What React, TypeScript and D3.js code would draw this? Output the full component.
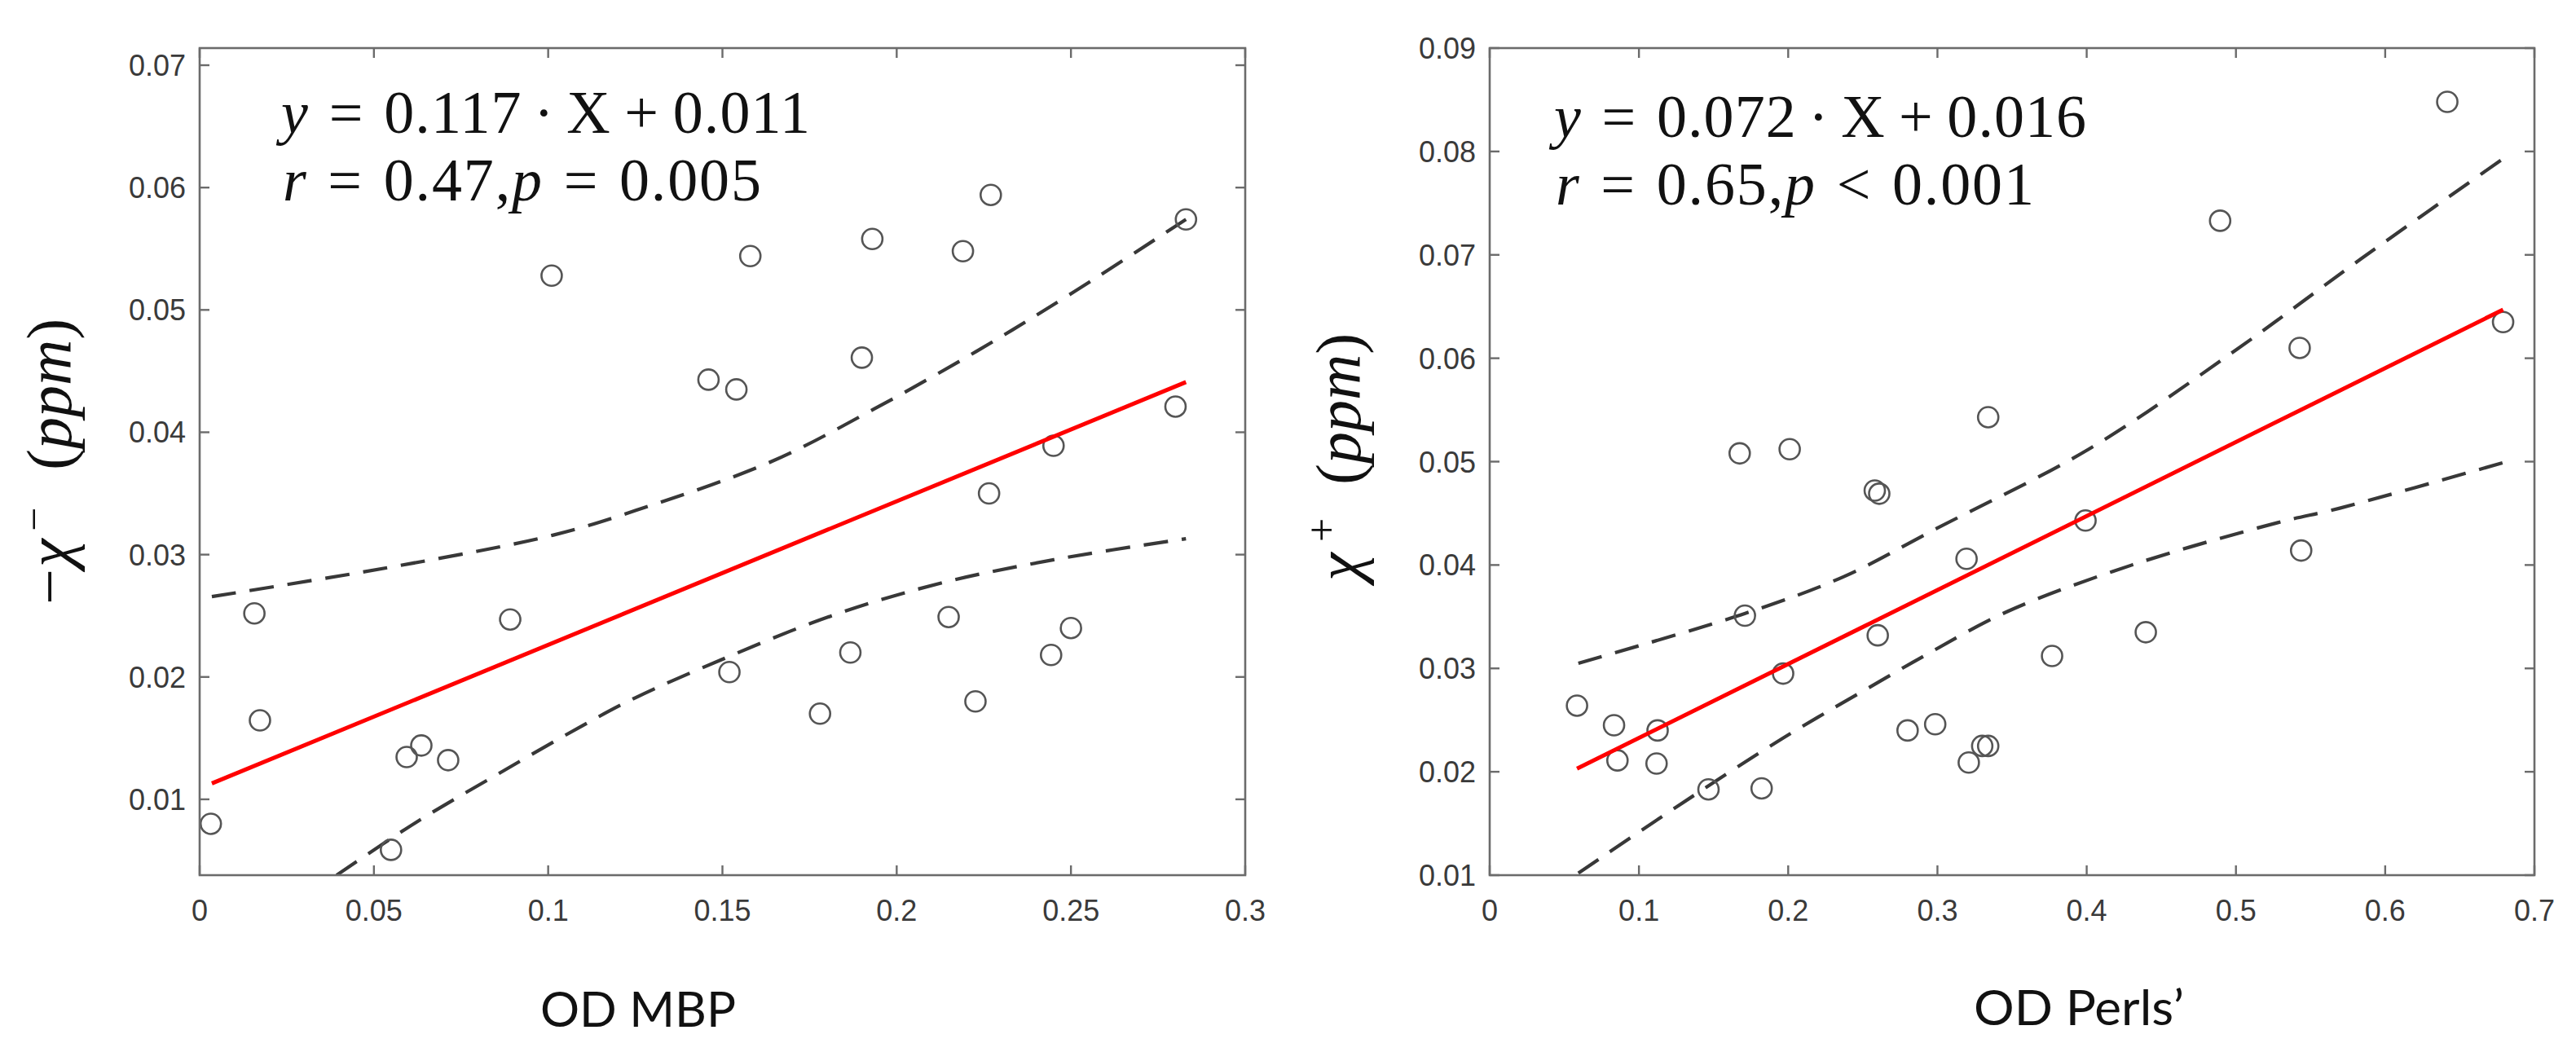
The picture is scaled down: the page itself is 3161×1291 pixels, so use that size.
import React from "react";
import * as d3 from "d3";

// ---------- data ----------
const leftX = [0.0032, 0.0157, 0.0173, 0.0549, 0.0594, 0.0636, 0.0713, 0.0891, 0.101, 0.146, 0.152, 0.154, 0.158, 0.178, 0.1867, 0.19, 0.193, 0.2149, 0.219, 0.2226, 0.2265, 0.227, 0.2443, 0.245, 0.25, 0.28, 0.283];
const leftY = [0.008, 0.0252, 0.01645, 0.00587, 0.01346, 0.0144, 0.0132, 0.0247, 0.0528, 0.0443, 0.0204, 0.0435, 0.0544, 0.017, 0.022, 0.0461, 0.0558, 0.0249, 0.0548, 0.018, 0.035, 0.0594, 0.0218, 0.0389, 0.024, 0.0421, 0.0574];
const leftFitX = [0.0035, 0.283];
const leftFitY = [0.0113, 0.0441];
const leftUpperX = [0.0035, 0.0573, 0.1015, 0.125, 0.164, 0.1935, 0.2228, 0.251, 0.283];
const leftUpperY = [0.02657, 0.0291, 0.0316, 0.0336, 0.0376, 0.0419, 0.0466, 0.0515, 0.0574];
const leftLowerX = [0.0393, 0.062, 0.0858, 0.1097, 0.125, 0.1496, 0.1813, 0.2131, 0.2474, 0.283];
const leftLowerY = [0.0038, 0.0081, 0.0121, 0.016, 0.0183, 0.0214, 0.025, 0.0277, 0.0297, 0.0313];
const leftXTicks = [0, 0.05, 0.1, 0.15, 0.2, 0.25, 0.3];
const leftXTickLabels = ["0", "0.05", "0.1", "0.15", "0.2", "0.25", "0.3"];
const leftYTicks = [0.01, 0.02, 0.03, 0.04, 0.05, 0.06, 0.07];
const leftYTickLabels = ["0.01", "0.02", "0.03", "0.04", "0.05", "0.06", "0.07"];

const rightX = [0.0585, 0.0833, 0.0856, 0.1118, 0.1125, 0.1466, 0.1675, 0.171, 0.1822, 0.1966, 0.201, 0.258, 0.261, 0.26, 0.28, 0.2985, 0.3195, 0.321, 0.33, 0.334, 0.334, 0.3768, 0.3992, 0.4396, 0.4894, 0.5427, 0.5437, 0.6416, 0.679];
const rightY = [0.0264, 0.0245, 0.0211, 0.0208, 0.024, 0.0183, 0.0508, 0.0351, 0.0184, 0.0295, 0.0512, 0.0472, 0.0469, 0.0332, 0.024, 0.0246, 0.0406, 0.0209, 0.0225, 0.0225, 0.0543, 0.0312, 0.0443, 0.0335, 0.0733, 0.061, 0.0414, 0.0848, 0.0635];
const rightFitX = [0.0585, 0.679];
const rightFitY = [0.0203, 0.0647];
const rightUpperX = [0.0594, 0.1708, 0.2376, 0.299, 0.4025, 0.5, 0.5837, 0.679];
const rightUpperY = [0.0305, 0.0353, 0.0389, 0.0435, 0.0513, 0.0608, 0.0696, 0.0793];
const rightLowerX = [0.0594, 0.1262, 0.1959, 0.2656, 0.291, 0.3468, 0.4303, 0.528, 0.5696, 0.679];
const rightLowerY = [0.0102, 0.0167, 0.0232, 0.0291, 0.0312, 0.0355, 0.04, 0.0441, 0.0455, 0.0499];
const rightXTicks = [0, 0.1, 0.2, 0.3, 0.4, 0.5, 0.6, 0.7];
const rightXTickLabels = ["0", "0.1", "0.2", "0.3", "0.4", "0.5", "0.6", "0.7"];
const rightYTicks = [0.01, 0.02, 0.03, 0.04, 0.05, 0.06, 0.07, 0.08, 0.09];
const rightYTickLabels = ["0.01", "0.02", "0.03", "0.04", "0.05", "0.06", "0.07", "0.08", "0.09"];

// equation tokens: [text, italic(1/0), space before it in em/18]
const eqLeft1 = [["y", 1, 0], ["=", 0, 6], ["0.117", 0, 6], ["·", 0, 3.5], ["X", 0, 3.5], ["+", 0, 4], ["0.011", 0, 4]];
const eqLeft2 = [["r", 1, 0], ["=", 0, 6], ["0.47,", 0, 6], ["p", 1, 0], ["=", 0, 6], ["0.005", 0, 6]];
const eqRight1 = [["y", 1, 0], ["=", 0, 6], ["0.072", 0, 6], ["·", 0, 3.5], ["X", 0, 3.5], ["+", 0, 4], ["0.016", 0, 4]];
const eqRight2 = [["r", 1, 0], ["=", 0, 6], ["0.65,", 0, 6], ["p", 1, 0], ["<", 0, 6], ["0.001", 0, 6]];

const W = 3161;
const H = 1291;

const AXIS = "#6b6b6b";
const TICKTXT = "#3a3a3a";
const TICKFONT = "'Liberation Sans', Arial, sans-serif";
const SERIF = "'Liberation Serif', 'Times New Roman', serif";
const SANS = "Lato, 'Open Sans', sans-serif";
const EQ_FS = 74;

type PanelProps = {
  id: string;
  xDomain: [number, number];
  yDomain: [number, number];
  xRange: [number, number];
  yRange: [number, number];
  px: number[];
  py: number[];
  fitX: number[];
  fitY: number[];
  upX: number[];
  upY: number[];
  loX: number[];
  loY: number[];
  xTicks: number[];
  xTickLabels: string[];
  yTicks: number[];
  yTickLabels: string[];
};

function Panel(p: PanelProps) {
  const x = d3.scaleLinear().domain(p.xDomain).range(p.xRange);
  const y = d3.scaleLinear().domain(p.yDomain).range(p.yRange);
  const [x0, x1] = p.xRange;
  const [yb, yt] = p.yRange;
  const line = d3
    .line<[number, number]>()
    .x((d) => x(d[0]))
    .y((d) => y(d[1]))
    .curve(d3.curveCatmullRom.alpha(0.5));
  const straight = d3
    .line<[number, number]>()
    .x((d) => x(d[0]))
    .y((d) => y(d[1]));
  const up = p.upX.map((v, i) => [v, p.upY[i]] as [number, number]);
  const lo = p.loX.map((v, i) => [v, p.loY[i]] as [number, number]);
  const fit = p.fitX.map((v, i) => [v, p.fitY[i]] as [number, number]);
  const TL = 12;
  return (
    <g>
      <defs>
        <clipPath id={p.id}>
          <rect x={x0} y={yt} width={x1 - x0} height={yb - yt} />
        </clipPath>
      </defs>
      <g clipPath={`url(#${p.id})`}>
        <path d={line(up) || ""} fill="none" stroke="#383838" strokeWidth={4.2} strokeDasharray="30 17" />
        <path d={line(lo) || ""} fill="none" stroke="#383838" strokeWidth={4.2} strokeDasharray="30 17" />
        {p.px.map((v, i) => (
          <circle key={i} cx={x(v)} cy={y(p.py[i])} r={12.5} fill="none" stroke="#555" strokeWidth={2.6} />
        ))}
        <path d={straight(fit) || ""} fill="none" stroke="#ff0000" strokeWidth={5} />
      </g>
      <rect x={x0} y={yt} width={x1 - x0} height={yb - yt} fill="none" stroke={AXIS} strokeWidth={2.6} />
      {p.xTicks.map((t, i) => (
        <g key={"xt" + i}>
          <line x1={x(t)} x2={x(t)} y1={yb} y2={yb - TL} stroke={AXIS} strokeWidth={2.4} />
          <line x1={x(t)} x2={x(t)} y1={yt} y2={yt + TL} stroke={AXIS} strokeWidth={2.4} />
          <text x={x(t)} y={yb + 56} textAnchor="middle" fontFamily={TICKFONT} fontSize={36} fill={TICKTXT}>
            {p.xTickLabels[i]}
          </text>
        </g>
      ))}
      {p.yTicks.map((t, i) => (
        <g key={"yt" + i}>
          <line x1={x0} x2={x0 + TL} y1={y(t)} y2={y(t)} stroke={AXIS} strokeWidth={2.4} />
          <line x1={x1} x2={x1 - TL} y1={y(t)} y2={y(t)} stroke={AXIS} strokeWidth={2.4} />
          <text x={x0 - 17} y={y(t) + 13} textAnchor="end" fontFamily={TICKFONT} fontSize={36} fill={TICKTXT}>
            {p.yTickLabels[i]}
          </text>
        </g>
      ))}
    </g>
  );
}

function Equation({ tokens, x, y, len }: { tokens: (string | number)[][]; x: number; y: number; len: number }) {
  return (
    <text x={x} y={y} textLength={len} lengthAdjust="spacing">
      {tokens.map((t, i) => (
        <tspan key={i} dx={((t[2] as number) * EQ_FS) / 18} fontStyle={t[1] ? "italic" : "normal"}>
          {t[0] as string}
        </tspan>
      ))}
    </text>
  );
}

export default function App() {
  return (
    <svg
      width={W}
      height={H}
      viewBox={`0 0 ${W} ${H}`}
      style={{ position: "absolute", left: 0, top: 0, background: "#fff" }}
    >
      <rect x={0} y={0} width={W} height={H} fill="#fff" />
      <Panel
        id="clipL"
        xDomain={[0, 0.3]}
        yDomain={[0.0038, 0.0714]}
        xRange={[245, 1528]}
        yRange={[1074, 59]}
        px={leftX}
        py={leftY}
        fitX={leftFitX}
        fitY={leftFitY}
        upX={leftUpperX}
        upY={leftUpperY}
        loX={leftLowerX}
        loY={leftLowerY}
        xTicks={leftXTicks}
        xTickLabels={leftXTickLabels}
        yTicks={leftYTicks}
        yTickLabels={leftYTickLabels}
      />
      <Panel
        id="clipR"
        xDomain={[0, 0.7]}
        yDomain={[0.01, 0.09]}
        xRange={[1828, 3110]}
        yRange={[1074, 59]}
        px={rightX}
        py={rightY}
        fitX={rightFitX}
        fitY={rightFitY}
        upX={rightUpperX}
        upY={rightUpperY}
        loX={rightLowerX}
        loY={rightLowerY}
        xTicks={rightXTicks}
        xTickLabels={rightXTickLabels}
        yTicks={rightYTicks}
        yTickLabels={rightYTickLabels}
      />

      {/* equations */}
      <g fontFamily={SERIF} fontSize={EQ_FS} fill="#111">
        <Equation tokens={eqLeft1} x={345} y={163} len={649} />
        <Equation tokens={eqLeft2} x={347} y={246} len={587} />
        <Equation tokens={eqRight1} x={1907} y={168} len={653} />
        <Equation tokens={eqRight2} x={1909} y={251} len={587} />
      </g>

      {/* y labels */}
      <g fontFamily={SERIF} fontSize={78} fill="#111">
        <text transform="translate(87,742) rotate(-90)">
          <tspan x={0}>−</tspan>
          <tspan x={46} fontStyle="italic">χ</tspan>
          <tspan x={90} fontSize={52} dy={-28}>−</tspan>
          <tspan x={165} dy={28}>(</tspan>
          <tspan fontStyle="italic">ppm</tspan>
          <tspan>)</tspan>
        </text>
        <text transform="translate(1669,713) rotate(-90)">
          <tspan x={0} fontStyle="italic">χ</tspan>
          <tspan x={48} fontSize={52} dy={-30}>+</tspan>
          <tspan x={118} dy={30}>(</tspan>
          <tspan fontStyle="italic">ppm</tspan>
          <tspan>)</tspan>
        </text>
      </g>

      {/* x labels */}
      <g fontFamily={SANS} fontSize={60} fill="#111">
        <text x={663} y={1260} textLength={240} lengthAdjust="spacingAndGlyphs">
          OD MBP
        </text>
        <text x={2422} y={1258} textLength={258} lengthAdjust="spacingAndGlyphs">
          OD Perls’
        </text>
      </g>
    </svg>
  );
}
